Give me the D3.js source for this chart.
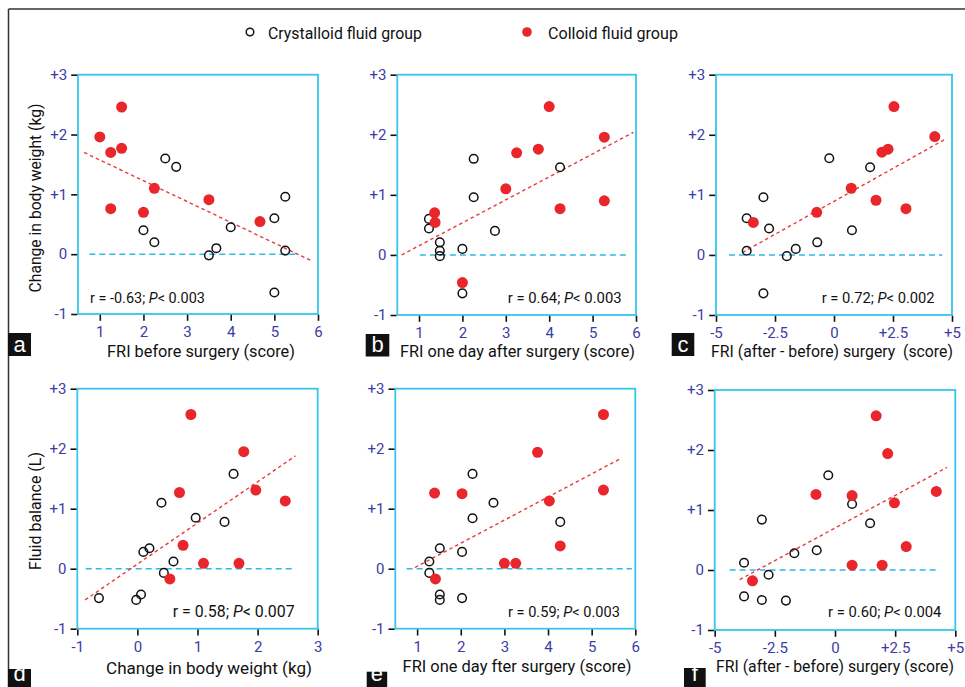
<!DOCTYPE html>
<html>
<head>
<meta charset="utf-8">
<script src="https://cdn.jsdelivr.net/npm/d3@7"></script>
<style>
  html, body { margin: 0; padding: 0; background: #fff; }
  svg { display: block; }
  text { font-family: Roboto, 'Liberation Sans', Arial, sans-serif; }
</style>
</head>
<body>
<svg id="chart" width="965" height="687"></svg>
<script>
// ---------------- DATA ----------------
const legendLabels = ["Crystalloid fluid group", "Colloid fluid group"];

const yTickValues = [-1, 0, 1, 2, 3];
const yTickLabels = ["-1", "0", "+1", "+2", "+3"];
const scoreTickValues = [1, 2, 3, 4, 5, 6];
const scoreTickLabels = ["1", "2", "3", "4", "5", "6"];
const diffTickValues = [-5, -2.5, 0, 2.5, 5];
const diffTickLabels = ["-5", "-2.5", "0", "+2.5", "+5"];
const weightTickValues = [-1, 0, 1, 2, 3];
const weightTickLabels = ["-1", "0", "1", "2", "3"];

// Panel a: FRI before surgery vs change in body weight
const crystA = [[2.5,1.60],[2.75,1.46],[2,0.40],[2.25,0.20],[3.5,-0.02],[3.67,0.10],[4,0.45],[5,0.60],[5.25,0.96],[5.25,0.06],[5,-0.64]];
const colloA = [[1,1.96],[1.25,1.70],[1.5,2.46],[1.5,1.77],[1.25,0.76],[2,0.70],[2.25,1.10],[3.5,0.91],[4.67,0.545]];
const fitA = [[0.64,1.70],[5.85,-0.11]];
const zeroA = [0.76, 5.51];

// Panel b: FRI one day after surgery vs change in body weight
const crystB = [[1.23,0.60],[1.23,0.44],[1.48,0.21],[1.48,0.07],[1.48,-0.02],[2,0.10],[2,-0.64],[2.26,1.60],[2.26,0.96],[2.75,0.40],[4.25,1.46]];
const colloB = [[1.36,0.70],[1.37,0.54],[2,-0.46],[3,1.10],[3.25,1.70],[3.75,1.76],[4,2.47],[4.25,0.77],[5.27,1.96],[5.27,0.90]];
const fitB = [[0.60,0.0],[5.94,2.04]];
const zeroB = [1.02, 5.78];

// Panel c: FRI (after - before) vs change in body weight
const crystC = [[-3.70,0.61],[-3.70,0.07],[-2.99,0.96],[-2.99,-0.64],[-2.75,0.44],[-2.0,-0.02],[-1.62,0.10],[-0.71,0.21],[-0.20,1.61],[0.76,0.41],[1.53,1.46]];
const colloC = [[-3.42,0.54],[-0.73,0.71],[0.73,1.11],[1.78,0.91],[2.03,1.71],[2.29,1.76],[2.54,2.47],[3.05,0.77],[4.27,1.97]];
const fitC = [[-3.88,0.04],[4.73,1.93]];
const zeroC = [-4.45, 4.59];

// Panel d: change in body weight vs fluid balance
const crystD = [[-0.64,-0.49],[-0.02,-0.52],[0.06,-0.43],[0.10,0.28],[0.20,0.34],[0.40,1.10],[0.44,-0.07],[0.60,0.12],[0.97,0.85],[1.45,0.78],[1.60,1.58]];
const colloD = [[0.89,2.57],[1.77,1.95],[0.70,1.27],[1.97,1.31],[2.46,1.13],[0.76,0.39],[1.10,0.09],[1.69,0.09],[0.54,-0.17]];
const fitD = [[-0.87,-0.52],[2.63,1.88]];
const zeroD = [-0.86, 2.6];

// Panel e: FRI one day after surgery vs fluid balance
const crystE = [[2.27,1.58],[2.27,0.84],[2.75,1.10],[4.28,0.78],[1.52,0.34],[2.03,0.28],[1.28,0.12],[1.28,-0.07],[1.52,-0.43],[1.52,-0.52],[2.03,-0.49]];
const colloE = [[5.27,2.57],[3.76,1.94],[1.40,1.26],[2.03,1.25],[4.03,1.13],[5.27,1.31],[4.28,0.38],[3.0,0.09],[3.26,0.09],[1.42,-0.17]];
const fitE = [[0.95,0.02],[5.65,1.83]];
const zeroE = [0.76, 5.92];

// Panel f: FRI (after - before) vs fluid balance
const crystF = [[-0.28,1.58],[0.71,1.10],[1.46,0.78],[-3.04,0.84],[-0.76,0.33],[-1.69,0.28],[-3.78,0.12],[-2.76,-0.08],[-3.78,-0.44],[-3.04,-0.50],[-2.04,-0.51]];
const colloF = [[1.71,2.57],[2.19,1.94],[-0.79,1.26],[0.71,1.24],[2.47,1.12],[4.21,1.31],[2.96,0.39],[0.71,0.08],[1.96,0.08],[-3.43,-0.18]];
const fitF = [[-3.96,-0.16],[4.65,1.71]];
const zeroF = [-4.38, 4.28];

const statsText = [
  ["r = -0.63; ", "P", "< 0.003"],
  ["r = 0.64; ", "P", "< 0.003"],
  ["r = 0.72; ", "P", "< 0.002"],
  ["r = 0.58; ", "P", "< 0.007"],
  ["r = 0.59; ", "P", "< 0.003"],
  ["r = 0.60; ", "P", "< 0.004"]
];
const xTitles = [
  "FRI before surgery (score)",
  "FRI one day after surgery (score)",
  "FRI (after - before) surgery  (score)",
  "Change in body weight (kg)",
  "FRI one day fter surgery (score)",
  "FRI (after - before) surgery (score)"
];
const yTitles = ["Change in body weight (kg)", "Fluid balance (L)"];
const panelLetters = ["a", "b", "c", "d", "e", "f"];

// ---------------- LAYOUT ----------------
const COL_CYAN = "#35c6f0";
const COL_ZERO = "#2fb8e6";
const COL_RED = "#e8262b";
const COL_FIT = "#e83a3a";
const COL_TICK = "#3c3ca6";

const panels = [
  { box:[78,74.7,318,314],   xd:[0.5,6], xt:scoreTickValues, xl:scoreTickLabels, crys:crystA, coll:colloA, fit:fitA, zero:zeroA,
    stat:{x:90, y:302.5, w:115}, title:{cx:201, y:357, w:188}, letter:[8,333,23,23] },
  { box:[397.3,74.7,636,315], xd:[0.5,6], xt:scoreTickValues, xl:scoreTickLabels, crys:crystB, coll:colloB, fit:fitB, zero:zeroB,
    stat:{x:507.7, y:302.5, w:114}, title:{cx:517.5, y:357, w:235}, letter:[365.7,334,23.6,22.5] },
  { box:[716,74.7,952,315],  xd:[-5,5], xt:diffTickValues, xl:diffTickLabels, crys:crystC, coll:colloC, fit:fitC, zero:zeroC,
    stat:{x:821.7, y:302.5, w:113}, title:{cx:832, y:357, w:242}, letter:[671.7,333,22.6,23] },
  { box:[77.3,388.7,317.7,628.7], xd:[-1,3], xt:weightTickValues, xl:weightTickLabels, crys:crystD, coll:colloD, fit:fitD, zero:zeroD,
    stat:{x:172.7, y:616.5, w:122}, title:{cx:209, y:674, w:206}, letter:[8,669,23,23] },
  { box:[395.3,388.7,635.3,628.7], xd:[0.5,6], xt:scoreTickValues, xl:scoreTickLabels, crys:crystE, coll:colloE, fit:fitE, zero:zeroE,
    stat:{x:508, y:616.5, w:112}, title:{cx:517, y:672, w:229}, letter:[366.7,671.7,20.5,22] },
  { box:[714.7,390,955.3,630], xd:[-5,5], xt:diffTickValues, xl:diffTickLabels, crys:crystF, coll:colloF, fit:fitF, zero:zeroF,
    stat:{x:828, y:616.5, w:113.5}, title:{cx:835, y:672, w:238}, letter:[684,668,21.7,22] }
];

const svg = d3.select("#chart");

// scale a text's font size so its natural width matches a target width
function fitWidth(sel, base, target) {
  sel.attr("font-size", base);
  const w = sel.node().getComputedTextLength();
  if (w > 0) sel.attr("font-size", (base * target / w).toFixed(2));
  return sel;
}

// outer frame (top and left)
svg.append("line").attr("x1", 8.5).attr("x2", 965).attr("y1", 9).attr("y2", 9)
  .attr("stroke", "#333").attr("stroke-width", 1.5);
svg.append("line").attr("x1", 8.5).attr("x2", 8.5).attr("y1", 9).attr("y2", 687)
  .attr("stroke", "#333").attr("stroke-width", 1.5);

// legend
const legend = svg.append("g");
legend.append("circle").attr("cx", 250).attr("cy", 32).attr("r", 3.8)
  .attr("fill", "#fff").attr("stroke", "#111").attr("stroke-width", 1.5);
fitWidth(legend.append("text").attr("x", 268).attr("y", 38.5).attr("fill", "#111").text(legendLabels[0]), 17, 154);
legend.append("circle").attr("cx", 527).attr("cy", 32).attr("r", 4.8).attr("fill", COL_RED);
fitWidth(legend.append("text").attr("x", 548).attr("y", 38.5).attr("fill", "#111").text(legendLabels[1]), 17, 130);

panels.forEach((p, i) => {
  const [x0, y0, x1, y1] = p.box;
  const xs = d3.scaleLinear().domain(p.xd).range([x0, x1]);
  const ys = d3.scaleLinear().domain([-1, 3]).range([y1, y0]);
  const g = svg.append("g");

  // box
  g.append("rect").attr("x", x0).attr("y", y0).attr("width", x1 - x0).attr("height", y1 - y0)
    .attr("fill", "none").attr("stroke", COL_CYAN).attr("stroke-width", 1.8);

  // axes
  const yAxis = d3.axisLeft(ys).tickValues(yTickValues).tickSize(6).tickPadding(4)
    .tickFormat((d, k) => yTickLabels[k]);
  const ya = g.append("g").attr("transform", `translate(${x0 - 0.8},0)`).call(yAxis);
  const xAxis = d3.axisBottom(xs).tickValues(p.xt).tickSize(6).tickPadding(6)
    .tickFormat((d, k) => p.xl[k]);
  const xa = g.append("g").attr("transform", `translate(0,${y1 + 0.8})`).call(xAxis);
  [ya, xa].forEach(a => {
    a.select(".domain").remove();
    a.selectAll(".tick line").attr("stroke", "#111").attr("stroke-width", 1.6);
    a.selectAll(".tick text").attr("fill", COL_TICK).attr("font-size", 15)
      .style("font-family", "Roboto, 'Liberation Sans', Arial, sans-serif");
  });

  // zero reference line
  g.append("line").attr("x1", xs(p.zero[0])).attr("x2", xs(p.zero[1]))
    .attr("y1", ys(0)).attr("y2", ys(0))
    .attr("stroke", COL_ZERO).attr("stroke-width", 1.6).attr("stroke-dasharray", "6,4");

  // regression line
  g.append("path").datum(p.fit)
    .attr("d", d3.line().x(d => xs(d[0])).y(d => ys(d[1])))
    .attr("fill", "none").attr("stroke", COL_FIT).attr("stroke-width", 1.4)
    .attr("stroke-dasharray", "3.5,3");

  // crystalloid (open)
  g.selectAll(".cr").data(p.crys).enter().append("circle")
    .attr("cx", d => xs(d[0])).attr("cy", d => ys(d[1])).attr("r", 4.3)
    .attr("fill", "none").attr("stroke", "#111").attr("stroke-width", 1.5);
  // colloid (filled)
  g.selectAll(".co").data(p.coll).enter().append("circle")
    .attr("cx", d => xs(d[0])).attr("cy", d => ys(d[1])).attr("r", 5.5)
    .attr("fill", COL_RED);

  // stats text
  const st = g.append("text").attr("x", p.stat.x).attr("y", p.stat.y).attr("fill", "#111");
  st.append("tspan").text(statsText[i][0]);
  st.append("tspan").attr("font-style", "italic").text(statsText[i][1]);
  st.append("tspan").text(statsText[i][2]);
  fitWidth(st, 15, p.stat.w);

  // x title
  fitWidth(g.append("text").attr("x", p.title.cx).attr("y", p.title.y).attr("text-anchor", "middle")
    .attr("fill", "#111").attr("xml:space", "preserve").style("white-space", "pre")
    .text(xTitles[i]), 17, p.title.w);

  // letter box
  const [lx, ly, lw, lh] = p.letter;
  g.append("rect").attr("x", lx).attr("y", ly).attr("width", lw).attr("height", lh).attr("fill", "#111");
  g.append("text").attr("x", lx + lw / 2).attr("y", Math.min(ly + lh - 4.5, 681)).attr("text-anchor", "middle")
    .attr("font-size", 22).attr("fill", "#fff")
    .style("font-family", "'Liberation Sans', Arial, sans-serif")
    .text(panelLetters[i]);
});

// y titles
const yTitleSpecs = [{cx:35, cy:198, w:189, text:yTitles[0]}, {cx:35, cy:511, w:118, text:yTitles[1]}];
yTitleSpecs.forEach(s => {
  const t = svg.append("text")
    .attr("transform", `translate(${s.cx + 6},${s.cy}) rotate(-90)`)
    .attr("x", 0).attr("y", 0).attr("text-anchor", "middle")
    .attr("fill", "#111").text(s.text);
  fitWidth(t, 17, s.w);
});
</script>
</body>
</html>
